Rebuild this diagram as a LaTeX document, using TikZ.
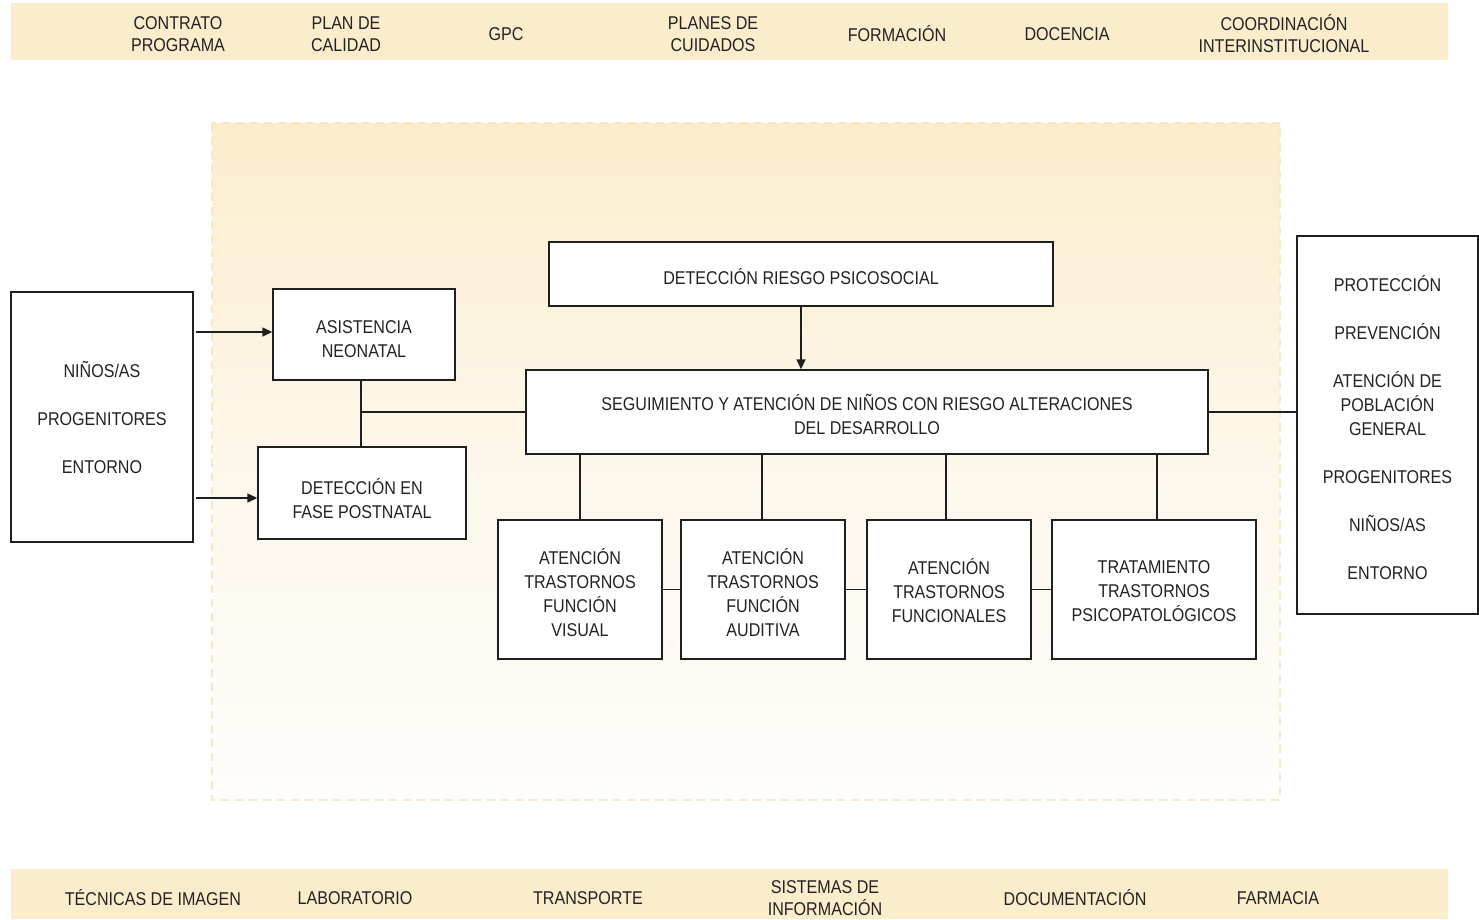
\documentclass[tikz,border=0pt]{standalone}
\usepackage{fontspec}
\setmainfont{Liberation Sans}[FakeStretch=0.87]
\usetikzlibrary{arrows.meta,calc}
\definecolor{band}{HTML}{FBEDCC}
\definecolor{bgtop}{HTML}{FBEDCC}
\definecolor{bgbot}{HTML}{FEFDFB}
\definecolor{dashc}{HTML}{F9E7C3}
\definecolor{ink}{HTML}{222222}
\newcommand\dn[1]{\rule{0pt}{#1pt}}
\tikzset{
  box/.style={draw=ink!90!black, line width=1.4pt, fill=white, align=center, inner sep=0pt,
     text=ink, font=\fontsize{18.5}{24}\selectfont},
  bandtxt/.style={align=center, text=ink, font=\fontsize{18.5}{22}\selectfont, inner sep=0pt},
  conn/.style={line width=1.4pt, draw=ink!90!black},
  arr/.style={conn, -{Triangle[length=10pt,width=9pt]}}
}
\begin{document}
\begin{tikzpicture}[x=1pt,y=-1pt]
\useasboundingbox (0,0) rectangle (1479,919);
% bands
\fill[band] (11,3) rectangle (1448,60);
\fill[band] (11,869) rectangle (1448,919);
% background area
\shade[top color=bgtop, bottom color=bgbot, middle color=bgtop!35!bgbot] (212,123) rectangle (1280,800);
\draw[dashc, line width=1.6pt, dash pattern=on 8pt off 6pt] (212,123) rectangle (1280,800);
% top texts
\node[bandtxt] (t1) at (178,34) {CONTRATO\\PROGRAMA};
\node[bandtxt] (t2) at (346,34) {PLAN DE\\CALIDAD};
\node[bandtxt] (t3) at (506,34) {GPC};
\node[bandtxt] (t4) at (713,34) {PLANES DE\\CUIDADOS};
\node[bandtxt] (t5) at (897,34) {FORMACIÓN};
\node[bandtxt] (t6) at (1067,34) {DOCENCIA};
\node[bandtxt] (t7) at (1284,34) {COORDINACIÓN\\INTERINSTITUCIONAL};
% bottom texts
\node[bandtxt] (u1) at (153,898) {TÉCNICAS DE IMAGEN};
\node[bandtxt] (u2) at (355,898) {LABORATORIO};
\node[bandtxt] (u3) at (588,898) {TRANSPORTE};
\node[bandtxt] (u4) at (825,898) {SISTEMAS DE\\INFORMACIÓN};
\node[bandtxt] (u5) at (1075,898) {DOCUMENTACIÓN};
\node[bandtxt] (u6) at (1278,898) {FARMACIA};
% boxes
\node[box, minimum width=182pt, minimum height=250pt] (nin) at (102,417) {NIÑOS/AS\\[24pt]PROGENITORES\\[24pt]ENTORNO};
\node[box, minimum width=182pt, minimum height=91pt] (asis) at (364,334.5) {\dn{23}ASISTENCIA\\NEONATAL};
\node[box, minimum width=208pt, minimum height=92pt] (det) at (362,493) {\dn{27}DETECCIÓN EN\\FASE POSTNATAL};
\node[box, minimum width=504pt, minimum height=64pt] (rie) at (801,274) {\dn{21}DETECCIÓN RIESGO PSICOSOCIAL};
\node[box, minimum width=682pt, minimum height=84pt] (seg) at (867,412) {\dn{21}SEGUIMIENTO Y ATENCIÓN DE NIÑOS CON RIESGO ALTERACIONES\\DEL DESARROLLO};
\node[box, minimum width=181pt, minimum height=378pt] (der) at (1387.5,425) {\dn{21}PROTECCIÓN\\[24pt]PREVENCIÓN\\[24pt]ATENCIÓN DE\\POBLACIÓN\\GENERAL\\[24pt]PROGENITORES\\[24pt]NIÑOS/AS\\[24pt]ENTORNO};
\node[box, minimum width=164pt, minimum height=139pt] (b1) at (580,589.5) {\dn{23}ATENCIÓN\\TRASTORNOS\\FUNCIÓN\\VISUAL};
\node[box, minimum width=164pt, minimum height=139pt] (b2) at (763,589.5) {\dn{23}ATENCIÓN\\TRASTORNOS\\FUNCIÓN\\AUDITIVA};
\node[box, minimum width=164pt, minimum height=139pt] (b3) at (949,589.5) {\dn{18}ATENCIÓN\\TRASTORNOS\\FUNCIONALES};
\node[box, minimum width=204pt, minimum height=139pt] (b4) at (1154,589.5) {\dn{17}TRATAMIENTO\\TRASTORNOS\\PSICOPATOLÓGICOS};
% connectors
\draw[arr] ($(asis.west -| nin.east)+(2,-2.5)$) -- ($(asis.west)+(0,-2.5)$);
\draw[arr] ($(det.west -| nin.east)+(2,5)$) -- ($(det.west)+(0,5)$);
\draw[conn] ($(asis.south)+(-3,0)$) -- ($(asis.south |- det.north)+(-3,0)$);
\coordinate (j) at ($(asis.south |- seg.west)+(-3,0)$);
\draw[conn] (j) -- (seg.west);
\draw[arr] (rie.south) -- (rie.south |- seg.north);
\draw[conn] (seg.east) -- (seg.east -| der.west);
\draw[conn] (b1.north |- seg.south) -- (b1.north);
\draw[conn] ($(b2.north |- seg.south)+(-1,0)$) -- ($(b2.north)+(-1,0)$);
\draw[conn] ($(b3.north |- seg.south)+(-3,0)$) -- ($(b3.north)+(-3,0)$);
\draw[conn] ($(b4.north |- seg.south)+(3,0)$) -- ($(b4.north)+(3,0)$);
\draw[conn] (b1.east) -- (b2.west);
\draw[conn] (b2.east) -- (b3.west);
\draw[conn] (b3.east) -- (b4.west);
\end{tikzpicture}
\end{document}
